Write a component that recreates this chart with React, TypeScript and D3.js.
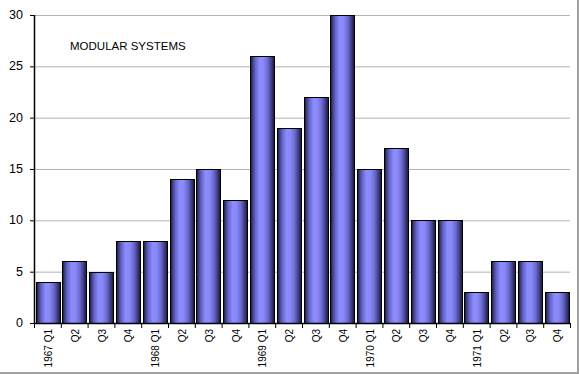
import React from "react";
import * as d3 from "d3";

const categories = [
  "1967 Q1", "Q2", "Q3", "Q4",
  "1968 Q1", "Q2 ", "Q3 ", "Q4 ",
  "1969 Q1", "Q2  ", "Q3  ", "Q4  ",
  "1970 Q1", "Q2   ", "Q3   ", "Q4   ",
  "1971 Q1", "Q2    ", "Q3    ", "Q4    ",
];
const values = [4, 6, 5, 8, 8, 14, 15, 12, 26, 19, 22, 30, 15, 17, 10, 10, 3, 6, 6, 3];
const yTicks = [0, 5, 10, 15, 20, 25, 30];
const title = "MODULAR SYSTEMS";

const W = 579;
const H = 374;
const FONT = "'Liberation Sans', Arial, sans-serif";

export default function App() {
  const x = d3.scaleBand<string>().domain(categories).range([34, 570]).paddingInner(0.12).paddingOuter(0.06);
  const y = d3.scaleLinear().domain([0, 30]).range([323, 15]);
  const step = x.step();
  const x0 = 34;

  return (
    <svg
      width={W}
      height={H}
      style={{ position: "absolute", left: 0, top: 0, background: "#fff" }}
    >
      <defs>
        <linearGradient id="barGrad" x1="0" x2="1" y1="0" y2="0">
          <stop offset="0" stopColor="#141430" />
          <stop offset="0.08" stopColor="#3a3a7a" />
          <stop offset="0.2" stopColor="#6464c8" />
          <stop offset="0.38" stopColor="#8c8cff" />
          <stop offset="0.55" stopColor="#8888f6" />
          <stop offset="0.72" stopColor="#6a6ad0" />
          <stop offset="0.88" stopColor="#3c3c80" />
          <stop offset="1" stopColor="#141430" />
        </linearGradient>
      </defs>
      <rect x={0} y={0} width={W} height={H} fill="#fff" />
      {/* gridlines */}
      {yTicks.filter((t) => t > 0).map((t) => (
        <line key={t} x1={35} x2={570} y1={y(t) + 0.5} y2={y(t) + 0.5} stroke="#b4b4b4" strokeWidth={1} />
      ))}
      {/* bars */}
      {values.map((v, i) => (
        <rect
          key={i}
          x={Math.round(x(categories[i])!) + 0.5}
          y={Math.round(y(v)) + 0.5}
          width={Math.round(x.bandwidth())}
          height={Math.round(y(0) - y(v))}
          fill="url(#barGrad)"
          stroke="#000"
          strokeWidth={1}
        />
      ))}
      {/* y axis */}
      <line x1={34.5} x2={34.5} y1={15} y2={323.5} stroke="#000" strokeWidth={1.5} />
      {yTicks.map((t) => (
        <g key={t}>
          <line x1={30} x2={34} y1={y(t) + 0.5} y2={y(t) + 0.5} stroke="#000" />
          <text
            x={23}
            y={y(t)}
            textAnchor="end"
            dominantBaseline="central"
            fontFamily={FONT}
            fontSize={12.5}
            fill="#000"
          >
            {t}
          </text>
        </g>
      ))}
      {/* x axis */}
      <line x1={34} x2={570} y1={323.5} y2={323.5} stroke="#000" strokeWidth={1.5} />
      {d3.range(categories.length + 1).map((i) => (
        <line key={i} x1={x0 + i * step + 0.5} x2={x0 + i * step + 0.5} y1={323} y2={328} stroke="#000" />
      ))}
      {categories.map((c) => (
        <text
          key={c}
          transform={`translate(${x(c)! + x.bandwidth() / 2 + 1},329) rotate(-90)`}
          textAnchor="end"
          dominantBaseline="central"
          fontFamily={FONT}
          fontSize={10}
          fill="#000"
        >
          {c.trim()}
        </text>
      ))}
      {/* title */}
      <text x={70} y={50} fontFamily={FONT} fontSize={11.5} fill="#000">
        {title}
      </text>
      {/* frame shadow */}
      <rect x={577} y={0} width={2} height={H} fill="#a0a0a0" />
      <rect x={0} y={372} width={W} height={2} fill="#a0a0a0" />
    </svg>
  );
}
